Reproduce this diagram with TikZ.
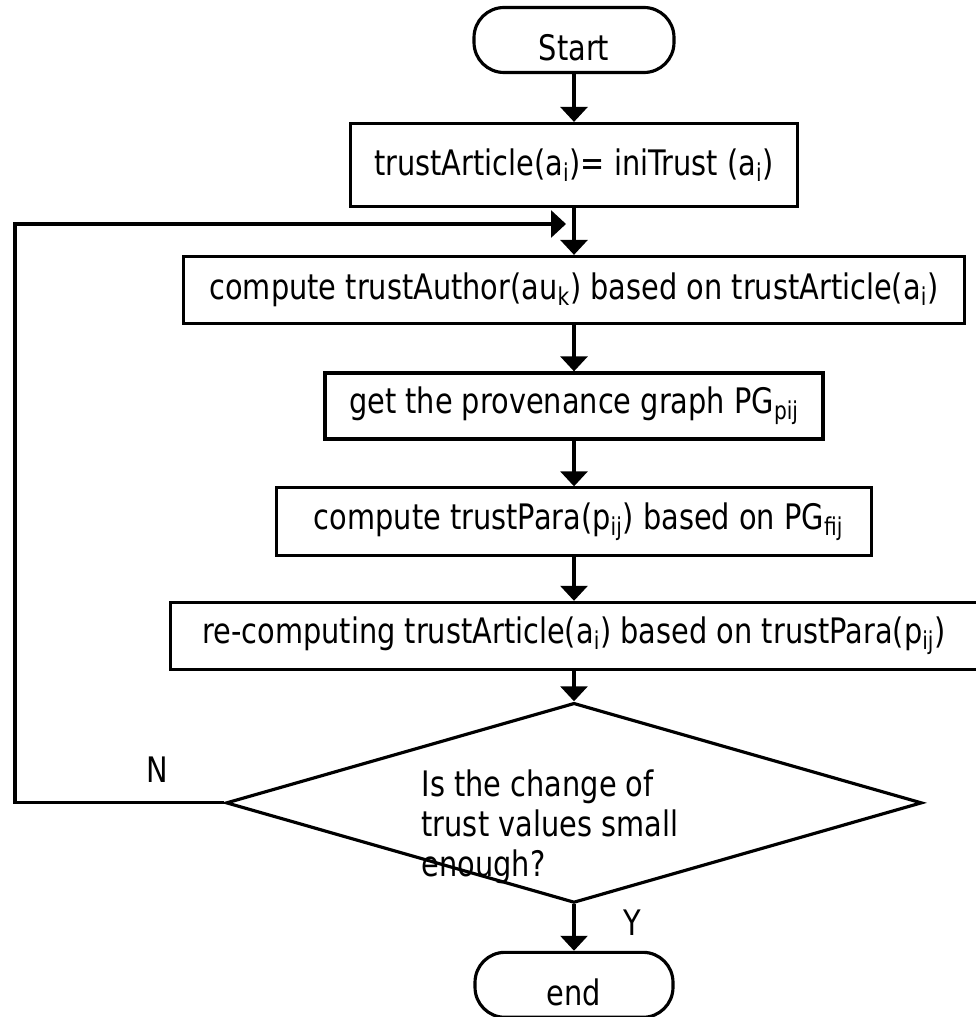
\documentclass[tikz,border=0pt]{standalone}
\usepackage{fontspec}
\setmainfont{DejaVu Sans}[FakeStretch=0.82]
\usetikzlibrary{shapes.geometric,arrows.meta}
\tikzstyle{terminal} = [rectangle, rounded corners=0.6cm, minimum width=4cm, minimum height=1.3cm, text height=0.84cm, text depth=0pt, text centered, draw=black]
\tikzstyle{stepbox} = [rectangle, minimum height=1.34cm, text centered, draw=black]
\tikzstyle{choice} = [diamond, minimum width=13.92cm, minimum height=4cm, inner sep=0pt, draw=black]
\tikzstyle{arrow} = [-{Triangle[length=0.3cm,width=0.54cm]}]

\begin{document}
\begin{tikzpicture}[x=0.02cm, y=-0.02cm, line width=1.8pt, node distance=2.5cm, font=\fontsize{20}{22.8}\selectfont]
        \useasboundingbox (0,0) rectangle (975,1017);
        \node (start) [terminal] at (574,40) {Start};
        \node (init) [stepbox, below of=start, minimum width=8.94cm, minimum height=1.66cm] {trustArticle(a\textsubscript{i})= iniTrust (a\textsubscript{i})};
        \node (author) [stepbox, below of=init, minimum width=15.62cm] {compute trustAuthor(au\textsubscript{k}) based on trustArticle(a\textsubscript{i})};
        \node (graph) [stepbox, below of=author, yshift=0.18cm, minimum width=9.96cm, minimum height=1.32cm] {get the provenance graph PG\textsubscript{pij}};
        \node (para) [stepbox, below of=graph, yshift=0.18cm, minimum width=11.9cm, minimum height=1.36cm] {\ compute trustPara(p\textsubscript{ij}) based on PG\textsubscript{fij}};
        \node (recomp) [stepbox, below of=para, yshift=0.22cm, minimum width=16.16cm] {re-computing trustArticle(a\textsubscript{i}) based on trustPara(p\textsubscript{ij})};
        \node (check) [choice, below of=recomp, yshift=-0.84cm] {};
        \node (question) [anchor=west, align=left, inner sep=0pt] at (420,827) {Is the change of\\trust values small\\enough?};
        \node (stop) [terminal, below of=check, yshift=-1.14cm, minimum width=3.96cm] {end};
        \node (nlabel) at (157,770) {N};
        \node (ylabel) at (632,923) {Y};
        \coordinate (loopx) at (15,224);
        \coordinate (join) at (566,224);
        \draw [arrow] (start) -- (init);
        \draw [arrow] (init) -- (author);
        \draw [arrow] (author) -- (graph);
        \draw [arrow] (graph) -- (para);
        \draw [arrow] (para) -- (recomp);
        \draw [arrow] (recomp) -- (check);
        \draw [arrow] (check) -- (stop);
        \draw [arrow] (check.west) -| (loopx) -- (join);
    \end{tikzpicture}
\end{document}
